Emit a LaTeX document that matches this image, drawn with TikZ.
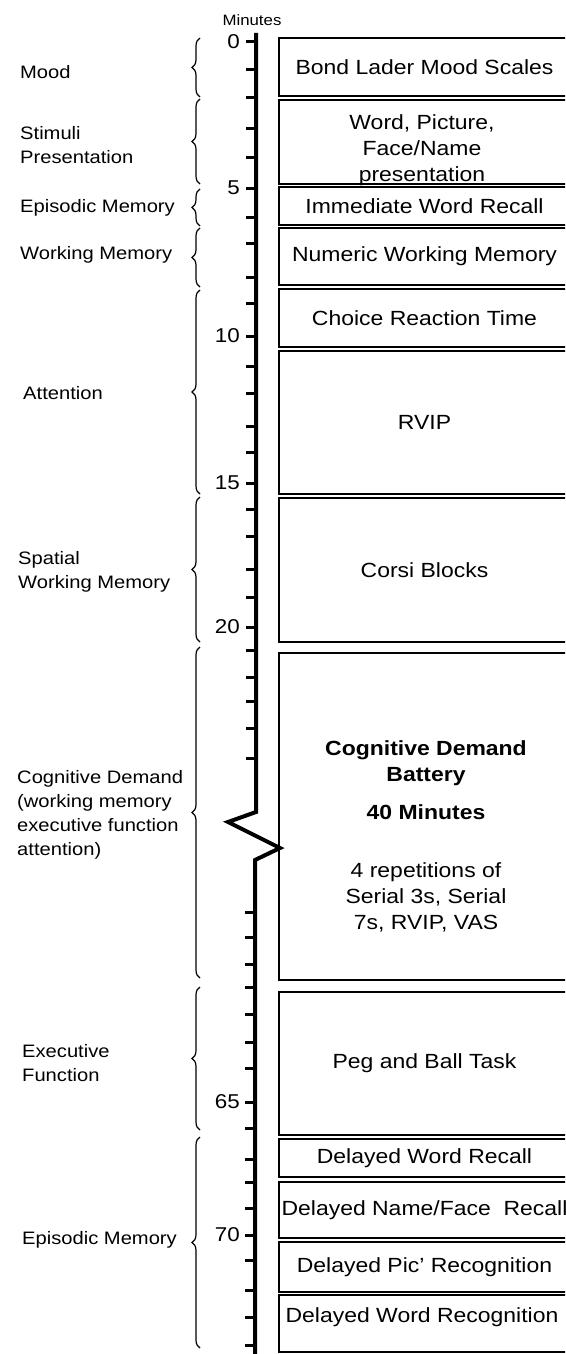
\documentclass[tikz,border=0pt]{standalone}
\usepackage{fontspec}
\setmainfont{Liberation Sans}[FakeStretch=1.12]
\usetikzlibrary{decorations.pathreplacing}

\tikzset{
  task/.style={draw, line width=1.6pt, minimum width=291pt, inner sep=0pt,
    font=\fontsize{20.5}{26}\selectfont, align=center},
  tasktext/.style={inner sep=0pt, font=\fontsize{20.5}{26}\selectfont, align=center},
  area/.style={anchor=west, inner sep=0pt, font=\fontsize{18}{24}\selectfont, align=left},
  minlabel/.style={anchor=east, inner sep=0pt, font=\fontsize{20}{24}\selectfont},
  grp/.style={decorate, decoration={brace, amplitude=8pt}, line width=1.2pt},
  axis/.style={line width=4pt, line join=miter},
  tick/.style={line width=3pt}
}

\begin{document}
\begin{tikzpicture}[x=1pt,y=-1pt]
      \useasboundingbox (0,0) rectangle (565,1354);
      \clip (0,0) rectangle (565,1354);

      % time axis
      \node[font=\fontsize{15}{18}\selectfont] (minutes) at (252,20) {Minutes};
      \draw[axis] (256,33) -- (256,812) -- (228,822) -- (280,848) -- (255,860) -- (255,1358);
      \draw[tick]
        (246,42) -- (256,42)   (246,70) -- (256,70)   (246,97) -- (256,97)
        (246,128) -- (256,128) (246,157) -- (256,157) (246,188) -- (256,188)
        (246,217) -- (256,217) (246,243) -- (256,243) (246,277) -- (256,277)
        (246,303) -- (256,303) (246,336) -- (256,336) (246,366) -- (256,366)
        (246,393) -- (256,393) (246,426) -- (256,426) (246,452) -- (256,452)
        (246,483) -- (256,483) (246,509) -- (256,509) (246,536) -- (256,536)
        (246,569) -- (256,569) (246,597) -- (256,597) (246,627) -- (256,627)
        (246,650) -- (256,650) (246,677) -- (256,677) (246,701) -- (256,701)
        (246,728) -- (256,728) (246,758) -- (256,758);
      \draw[tick]
        (245,912) -- (255,912)   (245,937) -- (255,937)   (245,964) -- (255,964)
        (245,987) -- (255,987)   (245,1014) -- (255,1014) (245,1042) -- (255,1042)
        (245,1068) -- (255,1068) (245,1102) -- (255,1102) (245,1128) -- (255,1128)
        (245,1159) -- (255,1159) (245,1182) -- (255,1182) (245,1208) -- (255,1208)
        (245,1235) -- (255,1235) (245,1260) -- (255,1260) (245,1290) -- (255,1290)
        (245,1317) -- (255,1317) (245,1345) -- (255,1345);
      \node[minlabel] (m0) at (240,42) {0};
      \node[minlabel] (m5) at (240,188) {5};
      \node[minlabel] (m10) at (240,336) {10};
      \node[minlabel] (m15) at (240,483) {15};
      \node[minlabel] (m20) at (240,627) {20};
      \node[minlabel] (m65) at (240,1102) {65};
      \node[minlabel] (m70) at (240,1235) {70};

      % tasks
      \node[task, minimum height=58pt] (mood) at (424.5,67) {Bond Lader Mood Scales};
      \node[task, minimum height=84pt] (stimuli) at (424.5,142) {};
      \node[tasktext] (stimulitext) at (422,150) {Word, Picture,\\ Face/Name\\ presentation};
      \node[task, minimum height=38pt] (iwr) at (424.5,206) {Immediate Word Recall};
      \node[task, minimum height=57pt] (nwm) at (424.5,256.5) {Numeric Working Memory};
      \node[task, minimum height=58pt] (crt) at (424.5,318) {Choice Reaction Time};
      \node[task, minimum height=143pt] (rvip) at (424.5,422.5) {RVIP};
      \node[task, minimum height=144pt] (corsi) at (424.5,570) {Corsi Blocks};
      \node[task, minimum height=327pt] (cdb) at (424.5,816.5) {};
      \node[tasktext] (cdbtext) at (426,836)
        {\textbf{Cognitive Demand}\\ \textbf{Battery}\\[12pt] \textbf{40 Minutes}\\[32pt]
         4 repetitions of\\ Serial 3s, Serial\\ 7s, RVIP, VAS};
      \node[task, minimum height=143pt] (peg) at (424.5,1063.5) {Peg and Ball Task};
      \node[task, minimum height=38pt] (dwr) at (424.5,1158) {Delayed Word Recall};
      \node[task, minimum height=56pt] (dnf) at (424.5,1210) {Delayed Name/Face~~Recall};
      \node[task, minimum height=50pt] (dpr) at (424.5,1267) {Delayed Pic' Recognition};
      \node[task, minimum height=57pt] (dwrec) at (424.5,1323.5) {};
      \node[tasktext] (dwrectext) at (422,1317) {Delayed Word Recognition};

      % domains
      \node[area] (lmood) at (20,72) {Mood};
      \node[area] (lstim) at (20,145) {Stimuli\\ Presentation};
      \node[area] (lepi) at (20,208) {Episodic Memory};
      \node[area] (lwm) at (20,255) {Working Memory};
      \node[area] (latt) at (23,393) {Attention};
      \node[area] (lswm) at (18,572) {Spatial\\ Working Memory};
      \node[area] (lcd) at (17,815) {Cognitive Demand\\ (working memory\\ executive function\\ attention)};
      \node[area] (lexec) at (22,1063) {Executive\\ Function};
      \node[area] (lepi2) at (22,1240) {Episodic Memory};

      \draw[grp] (200,97) -- (200,38);
      \draw[grp] (200,184) -- (200,99);
      \draw[grp] (200,226) -- (200,189);
      \draw[grp] (200,287) -- (200,228);
      \draw[grp] (200,494) -- (200,290);
      \draw[grp] (200,642) -- (200,497);
      \draw[grp] (200,978) -- (200,647);
      \draw[grp] (200,1130) -- (200,987);
      \draw[grp] (200,1348) -- (200,1137);
    \end{tikzpicture}
\end{document}
